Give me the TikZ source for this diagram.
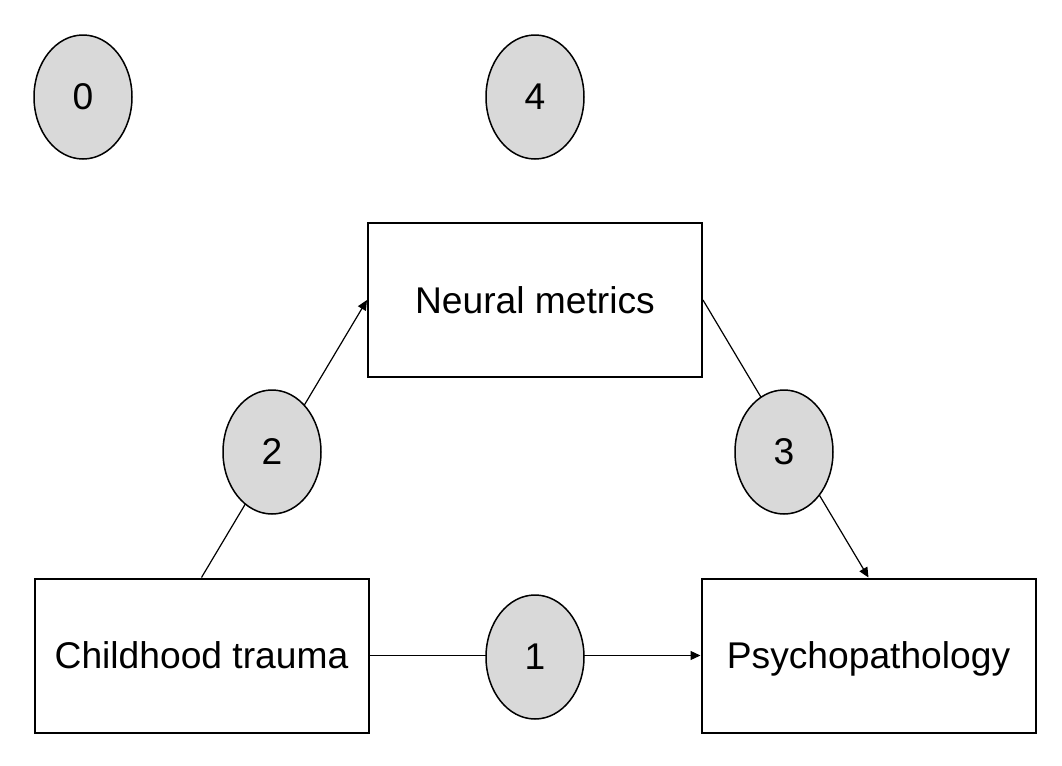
\documentclass[tikz,border=0pt]{standalone}
\usepackage{fontspec}
\setmainfont{Liberation Sans}
\usetikzlibrary{shapes.geometric, arrows.meta}

\begin{document}
\begin{tikzpicture}[x=0.5pt, y=-0.5pt,
    box/.style={draw, line width=1pt, minimum width=167pt, minimum height=77pt,
      inner sep=0pt, text height=13.2pt, text depth=0pt,
      font=\fontsize{18.6}{22}\selectfont},
    path/.style={draw, ellipse, fill=black!15, line width=0.75pt, minimum width=49pt,
      minimum height=62pt, inner sep=0pt, font=\fontsize{18.6}{22}\selectfont},
    link/.style={line width=0.6pt}]
    \useasboundingbox (0,0) rectangle (1062,766);
    % Draw the three boxes
    \node[box] (neural) at (535,300) {Neural metrics};
    \node[box] (trauma) at (201.5,655.5) {Childhood trauma};
    \node[box] (psycho) at (868.5,655.5) {Psychopathology};
    % Draw the connectors
    \draw[link, -{Triangle[length=5pt,width=4.5pt]}] (trauma.north) -- (neural.west);
    \draw[link, -{Triangle[length=5pt,width=4.5pt]}] (neural.east) -- (psycho.north);
    \draw[link, -{Triangle[length=5pt,width=4.5pt]}] (trauma.east) -- (psycho.west);
    % Draw the path labels on top
    \node[path] (p0) at (83,97) {0};
    \node[path] (p4) at (535,97) {4};
    \node[path] (p2) at (272,452) {2};
    \node[path] (p3) at (784,452) {3};
    \node[path] (p1) at (535,657) {1};
\end{tikzpicture}
\end{document}
